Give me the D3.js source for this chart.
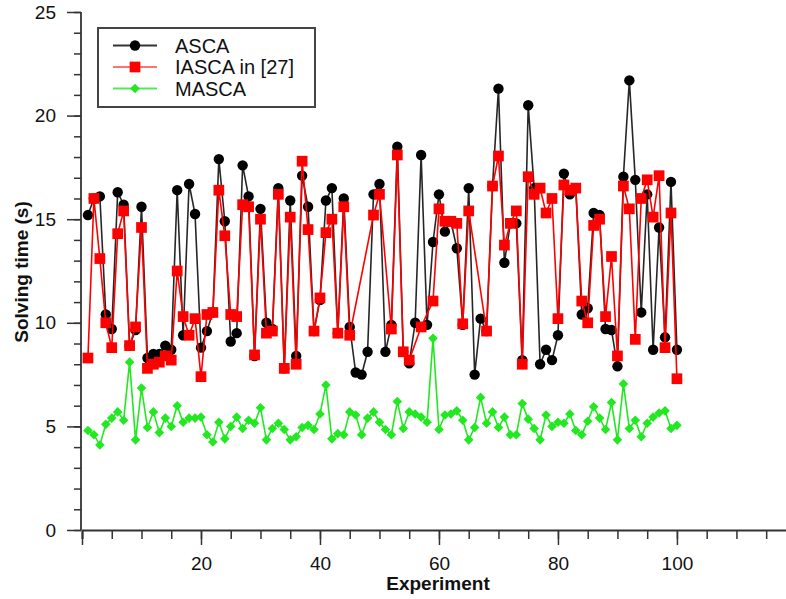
<!DOCTYPE html>
<html>
<head>
<meta charset="utf-8">
<script src="https://cdn.jsdelivr.net/npm/d3@7"></script>
<style>
    body { margin: 0; background: #fff; }
    svg { display: block; font-family: "Liberation Sans", Arial, sans-serif; }
</style>
</head>
<body>
<svg id="chart" width="786" height="599"></svg>
<script>
/* Experiment numbers 1..100 */
var Experiments = d3.range(1, 101);

/* ASCA solving times (s) */
var AscaTimes = [
    15.2, 16.0, 16.1, 10.4, 9.7, 16.3, 15.7, 8.9, 9.65, 15.6,
    8.3, 8.5, 8.5, 8.9, 8.7, 16.4, 9.4, 16.7, 15.25, 8.8,
    9.6, 10.5, 17.9, 14.9, 9.1, 9.5, 17.6, 16.1, 8.4, 15.5,
    10.0, 9.7, 16.5, 7.8, 15.9, 8.4, 17.1, 15.6, 9.6, 11.1,
    15.9, 16.5, 9.5, 16.0, 9.8, 7.6, 7.5, 8.6, 16.2, 16.7,
    8.6, 9.9, 18.5, 8.6, 8.05, 10.0, 18.1, 9.9, 13.9, 16.2,
    14.4, 14.9, 13.6, 9.9, 16.5, 7.5, 10.2, 9.6, 16.6, 21.3,
    12.9, 14.8, 14.8, 8.2, 20.5, 16.5, 8.0, 8.7, 8.2, 9.4,
    17.2, 16.2, 16.5, 10.4, 10.7, 15.3, 15.2, 9.7, 9.65, 7.9,
    17.05, 21.7, 16.9, 10.5, 16.2, 8.7, 14.6, 9.3, 16.8, 8.7
];

/* IASCA in [27] solving times (s), null where no marker is drawn */
var IascaTimes = [
    8.3, 16.0, 13.1, 10.0, 8.8, 14.3, 15.4, 8.9, 9.8, 14.6,
    7.8, 8.0, 8.1, 8.4, 8.2, 12.5, 10.3, 9.4, 10.2, 7.4,
    10.4, 10.5, 16.4, 14.2, 10.4, 10.3, 15.7, 15.6, 8.45, 15.0,
    9.5, 9.6, 16.2, 7.8, 15.1, 8.0, 17.8, 14.5, 9.6, 11.2,
    14.35, 15.0, 9.5, 15.6, 9.4, null, null, null, 15.2, 16.2,
    null, 9.7, 18.1, 8.6, 8.2, null, 9.8, null, 11.05, 15.5,
    14.9, 14.9, 14.8, 9.95, 15.4, null, null, 9.6, 16.6, 18.05,
    13.75, 14.8, 15.4, 8.0, 17.05, 16.2, 16.5, 15.3, 16.0, 10.2,
    16.65, 16.4, 16.5, 11.05, 10.0, 14.7, 15.0, 10.3, 13.2, 8.4,
    16.6, 15.5, 9.2, 16.0, 16.9, 15.1, 17.1, 8.8, 15.3, 7.3
];

/* MASCA solving times (s) */
var MascaTimes = [
    4.8, 4.6, 4.1, 5.1, 5.4, 5.7, 5.3, 8.1, 4.35, 6.85,
    4.95, 5.7, 4.7, 5.4, 5.0, 6.0, 5.2, 5.4, 5.4, 5.45,
    4.6, 4.25, 5.2, 4.4, 5.0, 5.45, 4.9, 5.3, 5.15, 5.9,
    4.35, 4.9, 5.15, 4.85, 4.35, 4.5, 4.95, 5.05, 4.85, 5.6,
    7.0, 4.4, 4.65, 4.6, 5.7, 5.55, 4.6, 5.4, 5.7, 5.2,
    4.85, 4.6, 6.2, 4.9, 5.7, 5.6, 5.45, 5.2, 9.25, 4.85,
    5.55, 5.6, 5.75, 5.3, 4.35, 4.95, 6.4, 5.15, 5.7, 4.95,
    5.45, 4.6, 4.6, 6.1, 5.35, 4.9, 4.35, 5.55, 5.0, 5.2,
    5.15, 5.6, 4.8, 4.6, 5.25, 5.95, 5.4, 4.85, 6.15, 4.35,
    7.05, 4.9, 5.3, 4.5, 5.15, 5.45, 5.65, 5.75, 4.9, 5.05
];

var SeriesNames = ["ASCA", "IASCA in [27]", "MASCA"];
var YMajorTicks = [0, 5, 10, 15, 20, 25];
var XMajorTicks = [0, 20, 40, 60, 80, 100];

function Init() {
    var svg = d3.select("#chart");

    // Scales
    var xScale = d3.scaleLinear().domain([0, 118.5]).range([82, 787]);
    var yScale = d3.scaleLinear().domain([0, 25]).range([530, 12]);

    DrawAxes(svg, xScale, yScale);

    var series = [
        { name: SeriesNames[0], values: AscaTimes, color: "#000000", marker: "circle" },
        { name: SeriesNames[1], values: IascaTimes, color: "#ff0000", marker: "square" },
        { name: SeriesNames[2], values: MascaTimes, color: "#22e822", marker: "diamond" }
    ];

    series.forEach(function(s) {
        var points = Experiments.map(function(e, i) { return { x: e, y: s.values[i] }; })
                                .filter(function(d) { return d.y != null; });
        var line = d3.line()
            .x(function(d) { return xScale(d.x); })
            .y(function(d) { return yScale(d.y); });

        svg.append("path")
           .datum(points)
           .attr("fill", "none")
           .attr("stroke", s.color)
           .attr("stroke-width", 1.6)
           .attr("stroke-opacity", s.marker == "circle" ? 0.85 : 1)
           .attr("d", line);

        DrawMarkers(svg.append("g"), points, s, xScale, yScale);
    });

    DrawLegend(svg, series);
}

function MarkerPath(type) {
    if ("circle" == type) return d3.symbol().type(d3.symbolCircle).size(85)();
    if ("square" == type) return d3.symbol().type(d3.symbolSquare).size(115)();
    return "M0,-4.8L4.8,0L0,4.8L-4.8,0Z";
}

function DrawMarkers(g, points, s, xScale, yScale) {
    g.selectAll("path").data(points).enter()
     .append("path")
     .attr("transform", function(d) { return "translate(" + xScale(d.x) + "," + yScale(d.y) + ")"; })
     .attr("d", MarkerPath(s.marker))
     .attr("fill", s.color);
}

function DrawAxes(svg, xScale, yScale) {
    var axisColor = "#333";

    // Y axis: minor ticks every 1, major every 5
    var yMinor = svg.append("g")
        .attr("transform", "translate(81,0)")
        .call(d3.axisLeft(yScale).tickValues(d3.range(0, 26)).tickSize(7).tickFormat(""));
    var yMajor = svg.append("g")
        .attr("transform", "translate(81,0)")
        .call(d3.axisLeft(yScale).tickValues(YMajorTicks).tickSize(14).tickPadding(11));

    // X axis: minor ticks every 5, major every 20
    var xMinor = svg.append("g")
        .attr("transform", "translate(0,530)")
        .call(d3.axisBottom(xScale).tickValues(d3.range(0, 119, 5)).tickSize(9).tickFormat(""));
    var xMajor = svg.append("g")
        .attr("transform", "translate(0,530)")
        .call(d3.axisBottom(xScale).tickValues(XMajorTicks).tickSize(15).tickPadding(12)
              .tickFormat(function(d) { return d == 0 ? "" : d; }));

    [yMinor, yMajor, xMinor, xMajor].forEach(function(a) {
        a.select(".domain").attr("stroke", axisColor).attr("stroke-width", 1.8);
        a.selectAll(".tick line").attr("stroke", axisColor).attr("stroke-width", 1.5);
        a.selectAll(".tick text")
         .attr("fill", "#111")
         .style("font-family", "Liberation Sans, Arial, sans-serif")
         .style("font-size", "19px");
    });
    yMinor.select(".domain").attr("d", "M81,530V12").attr("transform", "translate(-81,0)");
    yMajor.select(".domain").remove();
    xMajor.select(".domain").remove();

    // Axis titles
    svg.append("text")
       .attr("x", 438)
       .attr("y", 590)
       .attr("text-anchor", "middle")
       .style("font-weight", "bold")
       .style("font-size", "19px")
       .attr("fill", "#111")
       .text("Experiment");

    svg.append("text")
       .attr("transform", "translate(28,272) rotate(-90)")
       .attr("text-anchor", "middle")
       .style("font-weight", "bold")
       .style("font-size", "19px")
       .attr("fill", "#111")
       .text("Solving time (s)");
}

function DrawLegend(svg, series) {
    var legend = svg.append("g");

    legend.append("rect")
          .attr("x", 98)
          .attr("y", 28)
          .attr("width", 217)
          .attr("height", 79)
          .attr("fill", "#fff")
          .attr("stroke", "#444")
          .attr("stroke-width", 2);

    var rowY = [45.5, 67, 88.5];
    series.forEach(function(s, i) {
        legend.append("line")
              .attr("x1", 113).attr("x2", 157)
              .attr("y1", rowY[i]).attr("y2", rowY[i])
              .attr("stroke", s.color)
              .attr("stroke-opacity", s.marker == "square" ? 0.55 : 0.8)
              .attr("stroke-width", 2);
        legend.append("path")
              .attr("transform", "translate(135," + rowY[i] + ")")
              .attr("d", MarkerPath(s.marker))
              .attr("fill", s.color);
        legend.append("text")
              .attr("x", 175)
              .attr("y", rowY[i] + 7)
              .style("font-size", "20px")
              .attr("fill", "#111")
              .text(s.name);
    });
}

Init();
</script>
</body>
</html>
